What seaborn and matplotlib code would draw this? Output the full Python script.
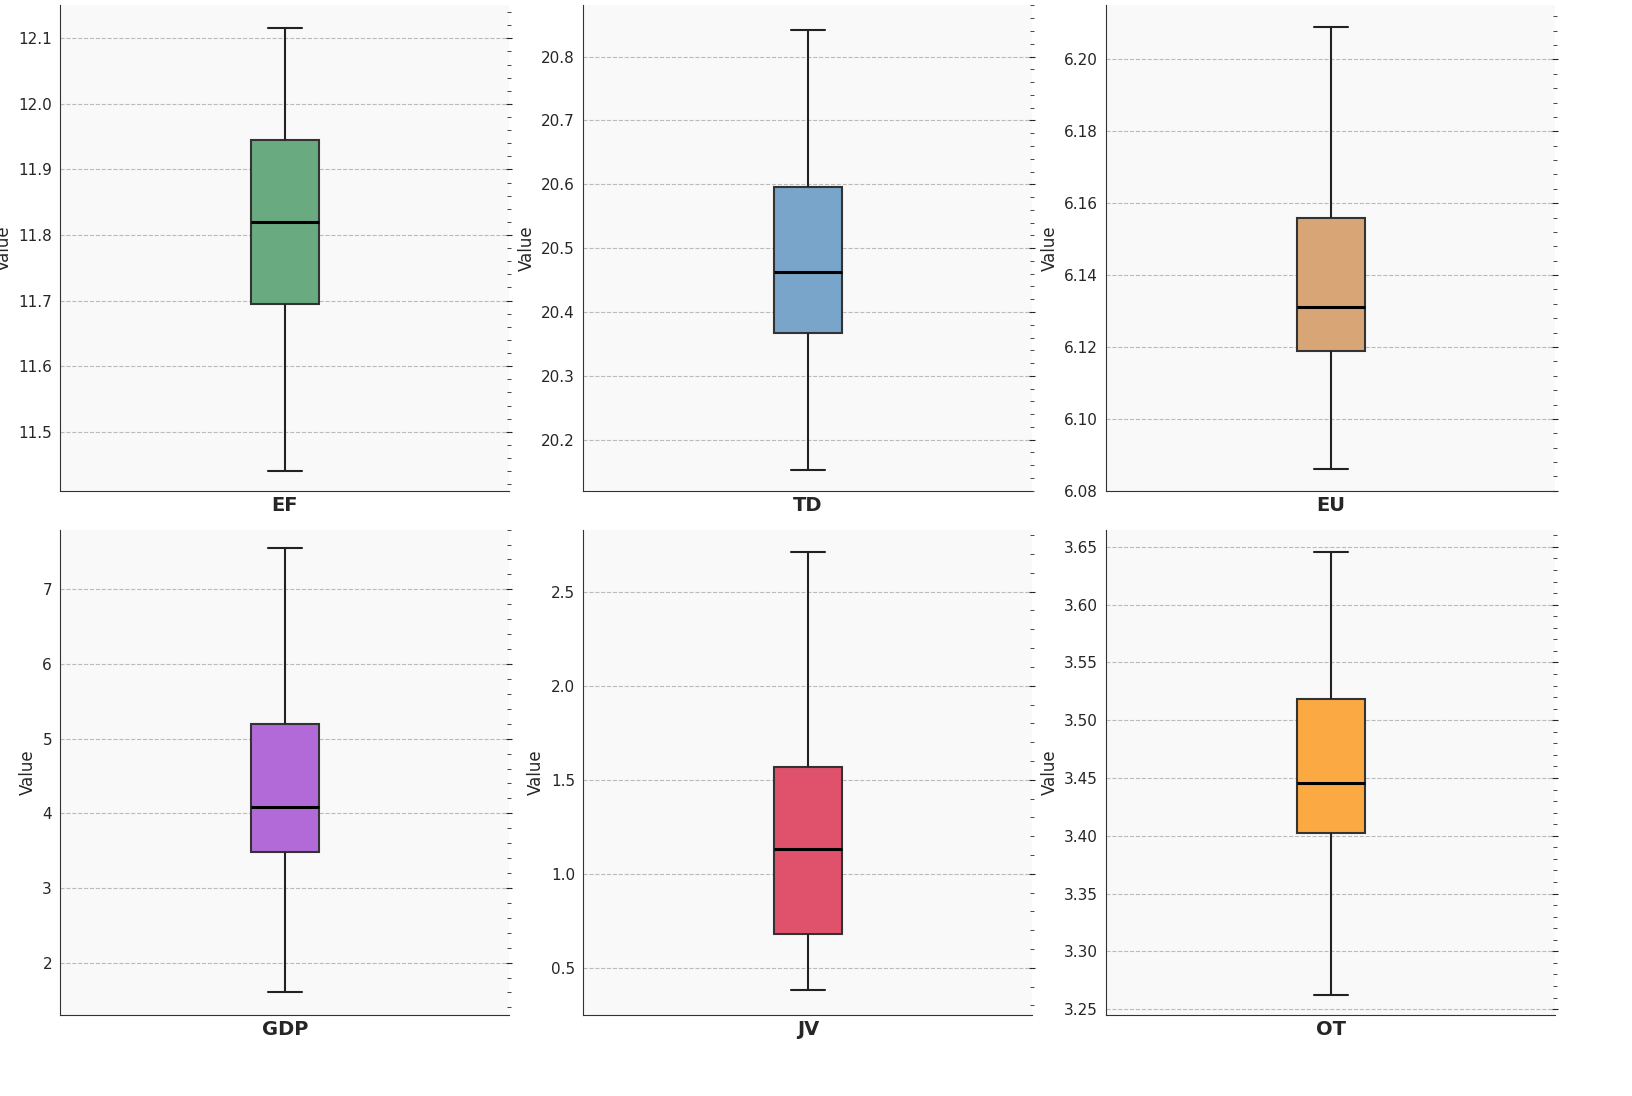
import numpy as np
import pandas as pd
import matplotlib
matplotlib.use("Agg")
import matplotlib.pyplot as plt
import seaborn as sns
from matplotlib.ticker import AutoMinorLocator

sns.set_style("white")

names = ["EF", "TD", "EU", "GDP", "JV", "OT"]
# min, q1, median, q3, max
stats = {
    "EF": [11.44, 11.695, 11.82, 11.945, 12.115],
    "TD": [20.152, 20.367, 20.463, 20.595, 20.842],
    "EU": [6.086, 6.119, 6.131, 6.156, 6.209],
    "GDP": [1.6, 3.48, 4.08, 5.2, 7.55],
    "JV": [0.38, 0.68, 1.13, 1.57, 2.71],
    "OT": [3.262, 3.402, 3.446, 3.518, 3.646],
}
colors = ["#6aaa80", "#78a5c9", "#d8a676", "#b36ad9", "#e0526c", "#fba943"]
ylims = [(11.41, 12.15), (20.12, 20.88), (6.08, 6.215),
         (1.3, 7.8), (0.25, 2.83), (3.245, 3.665)]

fig, axes = plt.subplots(2, 3, figsize=(16.32, 10.96), dpi=100)
fig.subplots_adjust(left=0.037, right=0.953, top=0.995, bottom=0.074,
                    wspace=0.165, hspace=0.08)
for ax, name, col, yl in zip(axes.flat, names, colors, ylims):
    df = pd.DataFrame({"Variable": name, "Value": stats[name]})
    ax.set_facecolor("#f9f9f9")
    sns.boxplot(data=df, x="Variable", y="Value", ax=ax, whis=np.inf,
                width=0.15, color=col, saturation=1,
                boxprops=dict(edgecolor="#333333", linewidth=1.5),
                whiskerprops=dict(color="#222222", linewidth=1.5),
                capprops=dict(color="#222222", linewidth=1.5),
                medianprops=dict(color="black", linewidth=2.2))
    ax.set_ylim(*yl)
    ax.set_xlabel("")
    ax.set_ylabel("Value", fontsize=12)
    ax.tick_params(axis="x", labelsize=14, length=0)
    for lab in ax.get_xticklabels():
        lab.set_fontweight("bold")
    ax.yaxis.set_minor_locator(AutoMinorLocator(5))
    ax.tick_params(axis="y", which="both", direction="inout", right=True, labelsize=11)
    ax.tick_params(axis="y", which="major", length=5)
    ax.tick_params(axis="y", which="minor", length=3)
    ax.yaxis.grid(True, linestyle="--", color="#bbbbbb", linewidth=0.8)
    ax.set_axisbelow(True)
    ax.spines["top"].set_visible(False)
    ax.spines["right"].set_visible(False)
    for s in ["left", "bottom"]:
        ax.spines[s].set_color("#333333")

fig.savefig("out.png")
